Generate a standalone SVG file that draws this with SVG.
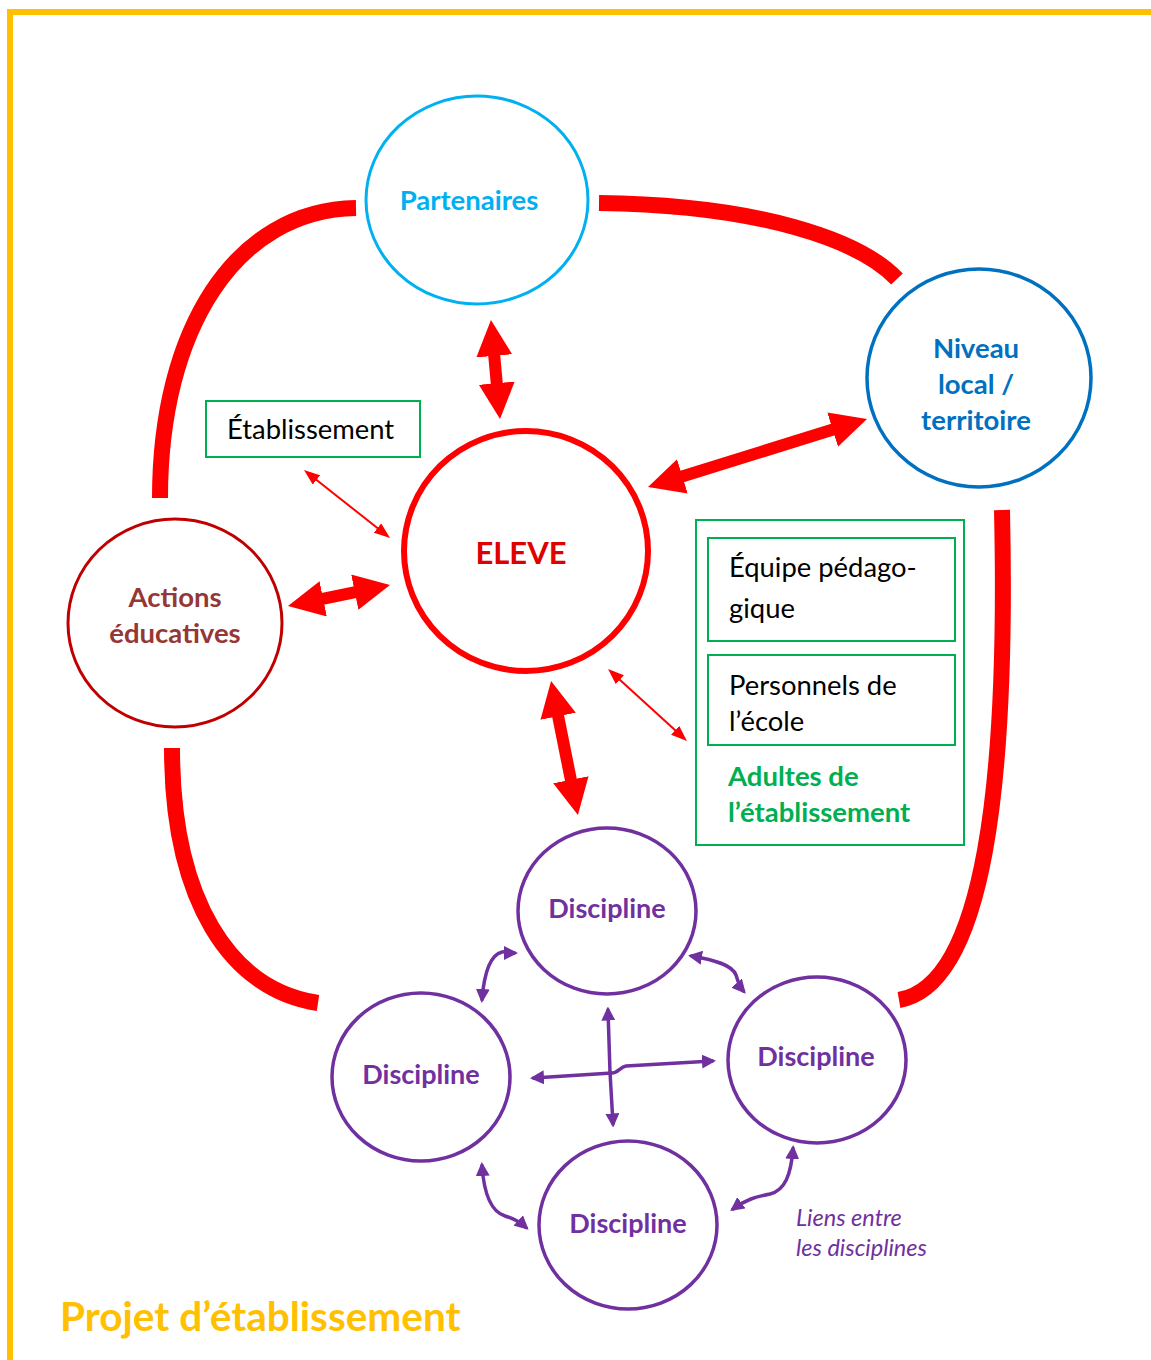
<svg xmlns="http://www.w3.org/2000/svg" width="1151" height="1360" viewBox="0 0 1151 1360">
<style>
text{font-family:Lato,"Liberation Sans",sans-serif}
.b{font-weight:bold}
.lbl{font-size:27.5px;text-anchor:middle;font-weight:bold}
.disc{fill:none;stroke:#7030A0;stroke-width:3.5}
.discT{fill:#7030A0;font-size:27px}
.arc{fill:none;stroke:#FF0000;stroke-width:16}
.big{fill:none;stroke:#FF0000;stroke-width:12;marker-start:url(#hb);marker-end:url(#hb)}
.thin{fill:none;stroke:#FF0000;stroke-width:2;marker-start:url(#ht);marker-end:url(#ht)}
.pa{fill:none;stroke:#7030A0;stroke-width:3.5;stroke-linecap:round;stroke-linejoin:round;marker-start:url(#hp);marker-end:url(#hp)}
.gbox{fill:none;stroke:#00B050;stroke-width:2}
.blk{font-size:27.4px;fill:#000}
</style>
<defs>
<marker id="hb" markerUnits="strokeWidth" markerWidth="3" markerHeight="3" viewBox="0 0 3 3" refX="1.5" refY="1.5" orient="auto-start-reverse"><path d="M0,0 L3,1.5 L0,3 z" fill="#FF0000"/></marker>
<marker id="ht" markerUnits="strokeWidth" markerWidth="8" markerHeight="6" viewBox="0 0 8 6" refX="6" refY="3" orient="auto-start-reverse"><path d="M0,0 L8,3 L0,6 z" fill="#FF0000"/></marker>
<marker id="hp" markerUnits="strokeWidth" markerWidth="4" markerHeight="4" viewBox="0 0 4 4" refX="3" refY="2" orient="auto-start-reverse"><path d="M0,0 L4,2 L0,4 z" fill="#7030A0"/></marker>
</defs>
<rect x="10" y="12" width="1160" height="1370" fill="none" stroke="#FFC000" stroke-width="6"/>

<g id="connectors">
<path class="arc" d="M356,208 C 235,210 160,330 160,498"/>
<path class="arc" d="M599,203 C 760,205 860,240 897,279"/>
<path class="arc" d="M1002,510 C 1008,780 985,985 899,1000"/>
<path class="arc" d="M172,748 C 172,900 230,990 318,1003"/>
<path class="big" d="M492.6,337.9 L498.4,401.1"/>
<path class="big" d="M305.6,602.4 L372.4,588.6"/>
<path class="big" d="M665.2,481.7 L849.8,424.3"/>
<path class="big" d="M554.6,698.6 L574.4,797.4"/>
<path class="thin" d="M307.1,472.5 L386.9,535.5"/>
<path class="thin" d="M611,671.7 L684,738.3"/>
<path class="pa" d="M482,999.5 C 484,975 490,955 502,952 C 508,951 511,953 514.5,953"/>
<path class="pa" d="M691.5,956 C 715,960 732,965 736,975 C 738,982 740,987 743.5,991"/>
<path class="pa" d="M608,1010 L610,1072 L613,1124"/>
<path class="pa" d="M533.5,1078 L612,1073 C 618,1073 620,1067 626,1066 L712.5,1061"/>
<path class="pa" d="M482,1165.5 C 484,1195 492,1212 505,1216 C 515,1219 520,1222 526,1227.5"/>
<path class="pa" d="M733,1209 C 745,1200 755,1197 770,1194 C 785,1190 791,1175 793,1148.5"/>
</g>

<g id="partenaires">
<ellipse cx="477" cy="200" rx="111" ry="104" fill="none" stroke="#00B0F0" stroke-width="3"/>
<text class="lbl" x="469" y="210" fill="#00B0F0">Partenaires</text>
</g>
<g id="niveau">
<ellipse cx="979" cy="378" rx="112" ry="109" fill="none" stroke="#0070C0" stroke-width="3.5"/>
<text class="lbl" fill="#0070C0"><tspan x="976" y="358">Niveau</tspan><tspan x="976" y="394">local /</tspan><tspan x="976" y="430">territoire</tspan></text>
</g>
<g id="eleve">
<ellipse cx="526" cy="551" rx="122" ry="120" fill="none" stroke="#FF0000" stroke-width="6"/>
<text x="521" y="564" font-size="31" font-weight="bold" text-anchor="middle" fill="#E00000">ELEVE</text>
</g>
<g id="actions">
<ellipse cx="175" cy="623" rx="107" ry="104" fill="none" stroke="#C00000" stroke-width="3"/>
<text class="lbl" fill="#953735"><tspan x="175" y="607">Actions</tspan><tspan x="175" y="643">éducatives</tspan></text>
</g>
<g id="etablissement">
<rect class="gbox" x="206" y="401" width="214" height="56"/>
<text class="blk" x="227" y="439">Établissement</text>
</g>
<g id="adultes">
<rect class="gbox" x="696" y="520" width="268" height="325"/>
<text font-size="27.5" class="b" fill="#00B050"><tspan x="728" y="786">Adultes de</tspan><tspan x="728" y="822">l’établissement</tspan></text>
</g>
<g id="equipe">
<rect class="gbox" x="708" y="538" width="247" height="103"/>
<text class="blk"><tspan x="729" y="577">Équipe pédago-</tspan><tspan x="729" y="618">gique</tspan></text>
</g>
<g id="personnels">
<rect class="gbox" x="708" y="655" width="247" height="90"/>
<text class="blk"><tspan x="729" y="695">Personnels de</tspan><tspan x="729" y="731">l’école</tspan></text>
</g>
<g id="disc-top">
<ellipse class="disc" cx="607" cy="911" rx="89" ry="83"/>
<text class="lbl discT" x="607" y="918">Discipline</text>
</g>
<g id="disc-left">
<ellipse class="disc" cx="421" cy="1077" rx="89" ry="84"/>
<text class="lbl discT" x="421" y="1084">Discipline</text>
</g>
<g id="disc-right">
<ellipse class="disc" cx="817" cy="1060" rx="89" ry="83"/>
<text class="lbl discT" x="816" y="1066">Discipline</text>
</g>
<g id="disc-bottom">
<ellipse class="disc" cx="628" cy="1225" rx="89" ry="84"/>
<text class="lbl discT" x="628" y="1233">Discipline</text>
</g>
<g id="liens">
<text font-size="23.5" font-style="italic" fill="#7030A0"><tspan x="796" y="1226">Liens entre</tspan><tspan x="796" y="1256">les disciplines</tspan></text>
</g>
<g id="titre">
<text x="60" y="1331" font-size="40.5" font-weight="bold" fill="#FFC000">Projet d’établissement</text>
</g>
</svg>
